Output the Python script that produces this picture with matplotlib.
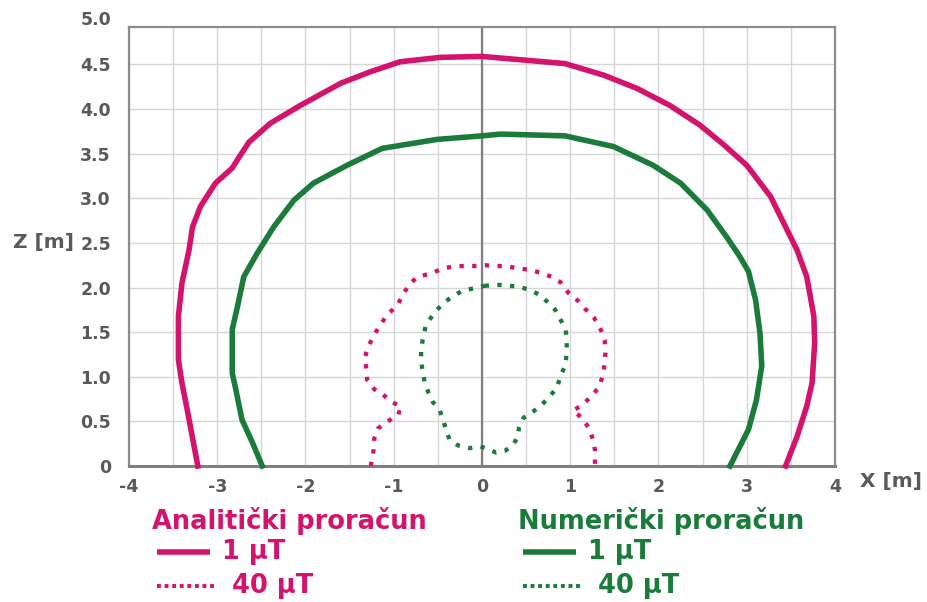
import numpy as np
import matplotlib
matplotlib.use("Agg")
import matplotlib.pyplot as plt
from matplotlib.lines import Line2D

MAGENTA = "#D4146C"
GREEN = "#1B7B3B"
TICK_GRAY = "#595959"

# Analytical contours (X, Z in metres)
ana_1uT_x = [-3.22, -3.27, -3.34, -3.40, -3.44, -3.44, -3.40, -3.32, -3.28, -3.19,
             -3.02, -2.83, -2.74, -2.64, -2.40, -2.06, -1.60, -1.26, -0.93, -0.47,
             0.00, 0.47, 0.94, 1.38, 1.76, 2.13, 2.47, 2.74, 3.00, 3.27,
             3.42, 3.57, 3.68, 3.76, 3.77, 3.74, 3.68, 3.57, 3.44]
ana_1uT_z = [0.00, 0.26, 0.63, 0.93, 1.19, 1.68, 2.05, 2.42, 2.68, 2.91,
             3.17, 3.34, 3.48, 3.63, 3.84, 4.04, 4.29, 4.42, 4.53, 4.58,
             4.59, 4.55, 4.51, 4.38, 4.23, 4.04, 3.82, 3.60, 3.37, 3.02,
             2.72, 2.42, 2.12, 1.68, 1.38, 0.93, 0.67, 0.33, 0.00]

ana_40uT_x = [-1.26, -1.23, -1.22, -1.18, -1.07, -0.95, -0.92, -1.03, -1.12, -1.22,
              -1.30, -1.31, -1.33, -1.29, -1.23, -1.15, -1.08, -0.96, -0.90, -0.83,
              -0.73, -0.57, -0.43, -0.26, -0.11, 0.04, 0.16, 0.29, 0.37, 0.53,
              0.65, 0.79, 0.89, 0.98, 1.09, 1.17, 1.27, 1.35, 1.39, 1.40,
              1.39, 1.37, 1.33, 1.24, 1.13, 1.03, 1.12, 1.21, 1.26, 1.28, 1.28]
ana_40uT_z = [0.00, 0.17, 0.31, 0.42, 0.50, 0.57, 0.67, 0.72, 0.80, 0.86,
              0.96, 1.09, 1.21, 1.33, 1.46, 1.58, 1.69, 1.80, 1.91, 2.03,
              2.12, 2.16, 2.22, 2.24, 2.24, 2.25, 2.24, 2.24, 2.22, 2.20,
              2.17, 2.12, 2.06, 1.94, 1.85, 1.76, 1.66, 1.52, 1.41, 1.29,
              1.15, 1.02, 0.89, 0.78, 0.68, 0.62, 0.55, 0.43, 0.29, 0.18, 0.00]

# Numerical contours
num_1uT_x = [-2.49, -2.60, -2.72, -2.79, -2.83, -2.83, -2.77, -2.70, -2.55, -2.36,
             -2.13, -1.91, -1.53, -1.13, -0.51, 0.00, 0.21, 0.94, 1.49, 1.94,
             2.25, 2.55, 2.77, 2.92, 3.02, 3.10, 3.15, 3.17, 3.11, 3.02, 2.81]
num_1uT_z = [0.00, 0.26, 0.52, 0.86, 1.04, 1.53, 1.79, 2.12, 2.38, 2.68,
             2.98, 3.17, 3.37, 3.56, 3.66, 3.70, 3.72, 3.70, 3.58, 3.37,
             3.17, 2.87, 2.57, 2.35, 2.18, 1.86, 1.49, 1.12, 0.74, 0.41, 0.00]

num_40uT_x = [0.03, 0.19, 0.30, 0.42, 0.55, 0.65, 0.74, 0.83, 0.89, 0.95,
              0.96, 0.96, 0.94, 0.89, 0.85, 0.76, 0.67, 0.58, 0.47, 0.42,
              0.40, 0.35, 0.26, 0.16, 0.07, -0.02, -0.14, -0.27, -0.37, -0.41,
              -0.48, -0.56, -0.61, -0.65, -0.67, -0.69, -0.69, -0.67, -0.64, -0.58,
              -0.50, -0.42, -0.33, -0.23, -0.10, 0.03]
num_40uT_z = [2.02, 2.03, 2.02, 2.01, 1.97, 1.92, 1.84, 1.75, 1.64, 1.52,
              1.38, 1.26, 1.12, 1.01, 0.88, 0.77, 0.68, 0.61, 0.54, 0.43,
              0.32, 0.23, 0.17, 0.15, 0.19, 0.22, 0.20, 0.23, 0.30, 0.42,
              0.63, 0.72, 0.83, 0.94, 1.05, 1.17, 1.30, 1.43, 1.56, 1.66,
              1.76, 1.84, 1.90, 1.96, 1.99, 2.02]

x_ticks = [-4, -3, -2, -1, 0, 1, 2, 3, 4]
x_tick_labels = ["-4", "-3", "-2", "-1", "0", "1", "2", "3", "4"]
z_ticks = [0, 0.5, 1.0, 1.5, 2.0, 2.5, 3.0, 3.5, 4.0, 4.5]
z_tick_labels = ["0", "0.5", "1.0", "1.5", "2.0", "2.5", "3.0", "3.5", "4.0", "4.5"]

W, H = 928, 602
fig = plt.figure(figsize=(W / 100, H / 100), dpi=100)
plt.rcParams["font.family"] = ["DejaVu Sans"]


def fx(px):
    return px / W


def fy(py):
    return 1 - py / H


left, right, top, bottom = 129, 835, 27, 466
ax = fig.add_axes([fx(left), fy(bottom), (right - left) / W, (bottom - top) / H])
ax.set_xlim(-4, 4)
ax.set_ylim(0, 4.92)

SOLID_LW = 4.0
DOT_LW = 3.1
DOTS = (0, (1.0, 1.95))

ax.plot(ana_1uT_x, ana_1uT_z, color=MAGENTA, lw=SOLID_LW, solid_joinstyle="round",
        clip_on=False, zorder=4)
ax.plot(num_1uT_x, num_1uT_z, color=GREEN, lw=SOLID_LW, solid_joinstyle="round",
        clip_on=False, zorder=4)
ax.plot(ana_40uT_x, ana_40uT_z, color=MAGENTA, lw=DOT_LW, linestyle=DOTS,
        dash_capstyle="butt", clip_on=False, zorder=4)
ax.plot(num_40uT_x, num_40uT_z, color=GREEN, lw=DOT_LW, linestyle=DOTS,
        dash_capstyle="butt", clip_on=False, zorder=4)

# grid: every 0.5 in both directions
ax.set_xticks(x_ticks)
ax.set_xticklabels(x_tick_labels)
ax.set_xticks(np.arange(-4, 4.01, 0.5), minor=True)
ax.set_yticks(z_ticks)
ax.set_yticklabels(z_tick_labels)
ax.grid(True, which="both", axis="x", color="#d6d6d6", lw=1.0)
ax.grid(True, which="major", axis="y", color="#d6d6d6", lw=1.0)
ax.set_axisbelow(True)
ax.tick_params(which="both", length=0)
ax.tick_params(axis="x", pad=9, labelsize=12.5, labelcolor=TICK_GRAY)
ax.tick_params(axis="y", pad=13, labelsize=12.5, labelcolor=TICK_GRAY)
for lab in ax.get_xticklabels() + ax.get_yticklabels():
    lab.set_fontweight("bold")

# top label of the value axis sits above the plot frame
ax.annotate("5.0", xy=(0, 5.0), xycoords=("axes fraction", "data"),
            xytext=(-13, 0), textcoords="offset points", ha="right", va="center",
            fontsize=12.5, fontweight="bold", color=TICK_GRAY, annotation_clip=False)

ax.axvline(0, color="#7f7f7f", lw=1.6, zorder=2)
for s in ["left", "right", "top"]:
    ax.spines[s].set_color("#8c8c8c")
    ax.spines[s].set_linewidth(1.6)
ax.spines["bottom"].set_color("#808080")
ax.spines["bottom"].set_linewidth(2.2)

fig.text(fx(13), fy(242), "Z [m]", ha="left", va="center", fontsize=14.5,
         fontweight="bold", color=TICK_GRAY)
fig.text(fx(860), fy(482), "X [m]", ha="left", va="center", fontsize=14.5,
         fontweight="bold", color=TICK_GRAY)

# legend blocks
def legend_block(x0, title, color):
    fig.text(fx(x0), fy(521), title, ha="left", va="center", fontsize=18.5,
             fontweight="bold", color=color)
    fig.add_artist(Line2D([fx(x0 + 5), fx(x0 + 58)], [fy(552), fy(552)],
                          color=color, lw=SOLID_LW, solid_capstyle="butt"))
    fig.text(fx(x0 + 70), fy(552), "1 µT", ha="left", va="center", fontsize=18.5,
             fontweight="bold", color=color)
    fig.add_artist(Line2D([fx(x0 + 5), fx(x0 + 62)], [fy(586), fy(586)],
                          color=color, lw=2.8, linestyle=(0, (1.0, 0.95)),
                          dash_capstyle="butt"))
    fig.text(fx(x0 + 80), fy(586), "40 µT", ha="left", va="center", fontsize=18.5,
             fontweight="bold", color=color)


legend_block(152, "Analitički proračun", MAGENTA)
legend_block(518, "Numerički proračun", GREEN)

fig.savefig("out.png", dpi=100)
